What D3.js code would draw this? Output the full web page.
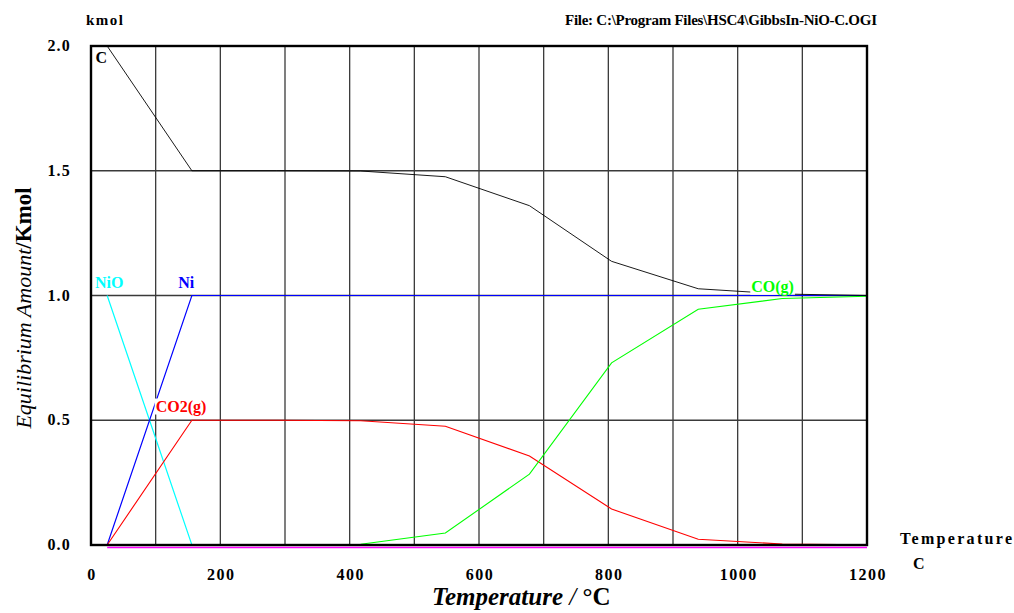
<!DOCTYPE html>
<html><head><meta charset="utf-8">
<script src="https://cdn.jsdelivr.net/npm/d3@7"></script>
<style>
body{margin:0;background:#fff;}
svg{display:block;}
text{font-family:"Liberation Serif","Times New Roman",serif;}
</style></head>
<body><svg id="c" width="1014" height="613"></svg>
<script>
// ---- data ----
const temps = [25, 156, 287, 417, 548, 678, 805, 939, 1069, 1200];
const seriesC   = [2.0, 1.5, 1.5, 1.499, 1.476, 1.36, 1.137, 1.027, 1.006, 1.0];
const seriesNiO = [1.0, 0, 0, 0, 0, 0, 0, 0, 0, 0];
const seriesNi  = [0, 1.0, 1.0, 1.0, 1.0, 1.0, 1.0, 1.0, 1.0, 1.0];
const seriesCO2 = [0, 0.5, 0.5, 0.498, 0.476, 0.357, 0.144, 0.023, 0.004, 0.0005];
const seriesCO  = [0, 0, 0, 0.003, 0.048, 0.284, 0.73, 0.945, 0.988, 0.997];
const seriesZero = [0, 0, 0, 0, 0, 0, 0, 0, 0, 0];
const xTicks = [0, 200, 400, 600, 800, 1000, 1200];
const xGrid = [100, 200, 300, 400, 500, 600, 700, 800, 900, 1000, 1100];
const yTicks = [0, 0.5, 1.0, 1.5, 2.0];
const yGrid = [0.5, 1.0, 1.5];
const labels = [
  {text:"C", t:7, v:1.93, color:"#000000"},
  {text:"NiO", t:6, v:1.03, color:"#00ffff"},
  {text:"Ni", t:135, v:1.03, color:"#0000ff"},
  {text:"CO2(g)", t:100, v:0.535, color:"#ff0000"},
  {text:"CO(g)", t:1021, v:1.015, color:"#00ff00"}
];

const svg = d3.select("#c");
const x = d3.scaleLinear().domain([0,1200]).range([91,867]);
const y = d3.scaleLinear().domain([0,2]).range([545,46]);

// grid
const g = svg.append("g");
g.selectAll("line.v").data(xGrid).join("line")
  .attr("x1",d=>x(d)).attr("x2",d=>x(d)).attr("y1",y(0)).attr("y2",y(2))
  .attr("stroke","#3a3a3a").attr("stroke-width",1.3);
g.selectAll("line.h").data(yGrid).join("line")
  .attr("y1",d=>y(d)).attr("y2",d=>y(d)).attr("x1",x(0)).attr("x2",x(1200))
  .attr("stroke","#3a3a3a").attr("stroke-width",1.3);

// series
const line = d3.line().x((d,i)=>x(temps[i])).y(d=>y(d));
const series = [
  {vals:seriesZero, color:"#ff00ff", dy:2.5, w:1.5},
  {vals:seriesNiO, color:"#00ffff", dy:0, w:1.2},
  {vals:seriesNi, color:"#0000ff", dy:0, w:1.2},
  {vals:seriesCO2, color:"#ff0000", dy:0, w:1.1},
  {vals:seriesCO, color:"#00ff00", dy:0, w:1.1},
  {vals:seriesC, color:"#000000", dy:0, w:0.9}
];
series.forEach(s=>{
  svg.append("path").datum(s.vals).attr("d",line)
    .attr("transform",`translate(0,${s.dy})`)
    .attr("fill","none").attr("stroke",s.color).attr("stroke-width",s.w);
});

// frame
svg.append("rect").attr("x",x(0)).attr("y",y(2)).attr("width",x(1200)-x(0)).attr("height",y(0)-y(2))
  .attr("fill","none").attr("stroke","#000").attr("stroke-width",2.4);

// series labels with white background
labels.forEach(l=>{
  const t = svg.append("text").attr("x",x(l.t)).attr("y",y(l.v))
    .attr("font-size",16).attr("font-weight","bold").attr("fill",l.color).text(l.text);
  const b = t.node().getBBox();
  svg.insert("rect", ()=>t.node()).attr("x",b.x-1).attr("y",b.y+1).attr("width",b.width+2).attr("height",b.height-2).attr("fill","#fff");
});

// y axis tick labels
svg.selectAll("text.yt").data(yTicks).join("text")
  .attr("x",71).attr("y",d=>y(d)+5).attr("text-anchor","end")
  .attr("font-size",16).attr("font-weight","bold").attr("fill","#000")
  .attr("letter-spacing",1.2)
  .text(d=>d3.format(".1f")(d));
// x axis tick labels
svg.selectAll("text.xt").data(xTicks).join("text")
  .attr("x",d=>x(d)+1).attr("y",580).attr("text-anchor","middle")
  .attr("font-size",16).attr("font-weight","bold").attr("fill","#000")
  .attr("letter-spacing",1.5)
  .text(d=>d);

// headers
svg.append("text").attr("x",86).attr("y",25).attr("font-size",15).attr("font-weight","bold")
  .attr("letter-spacing",1.5).text("kmol");
svg.append("text").attr("x",565).attr("y",25).attr("font-size",15).attr("font-weight","bold")
  .attr("textLength",312).attr("lengthAdjust","spacing")
  .text("File: C:\\Program Files\\HSC4\\GibbsIn-NiO-C.OGI");
svg.append("text").attr("x",900).attr("y",544).attr("font-size",16).attr("font-weight","bold")
  .attr("textLength",112).attr("lengthAdjust","spacing").text("Temperature");
svg.append("text").attr("x",913).attr("y",569).attr("font-size",16).attr("font-weight","bold").text("C");

// x axis title
const xt = svg.append("text").attr("x",432).attr("y",605).attr("font-size",25);
xt.append("tspan").attr("font-weight","bold").attr("font-style","italic").text("Temperature");
xt.append("tspan").attr("font-style","italic").text(" / ");
xt.append("tspan").attr("font-weight","bold").text("°C");

// y axis title
const yt = svg.append("text").attr("transform","translate(31,308) rotate(-90)")
  .attr("text-anchor","middle").attr("font-size",22);
yt.append("tspan").attr("font-style","italic").text("Equilibrium Amount");
yt.append("tspan").attr("font-weight","bold").attr("font-size",23).text("/Kmol");
</script></body></html>
